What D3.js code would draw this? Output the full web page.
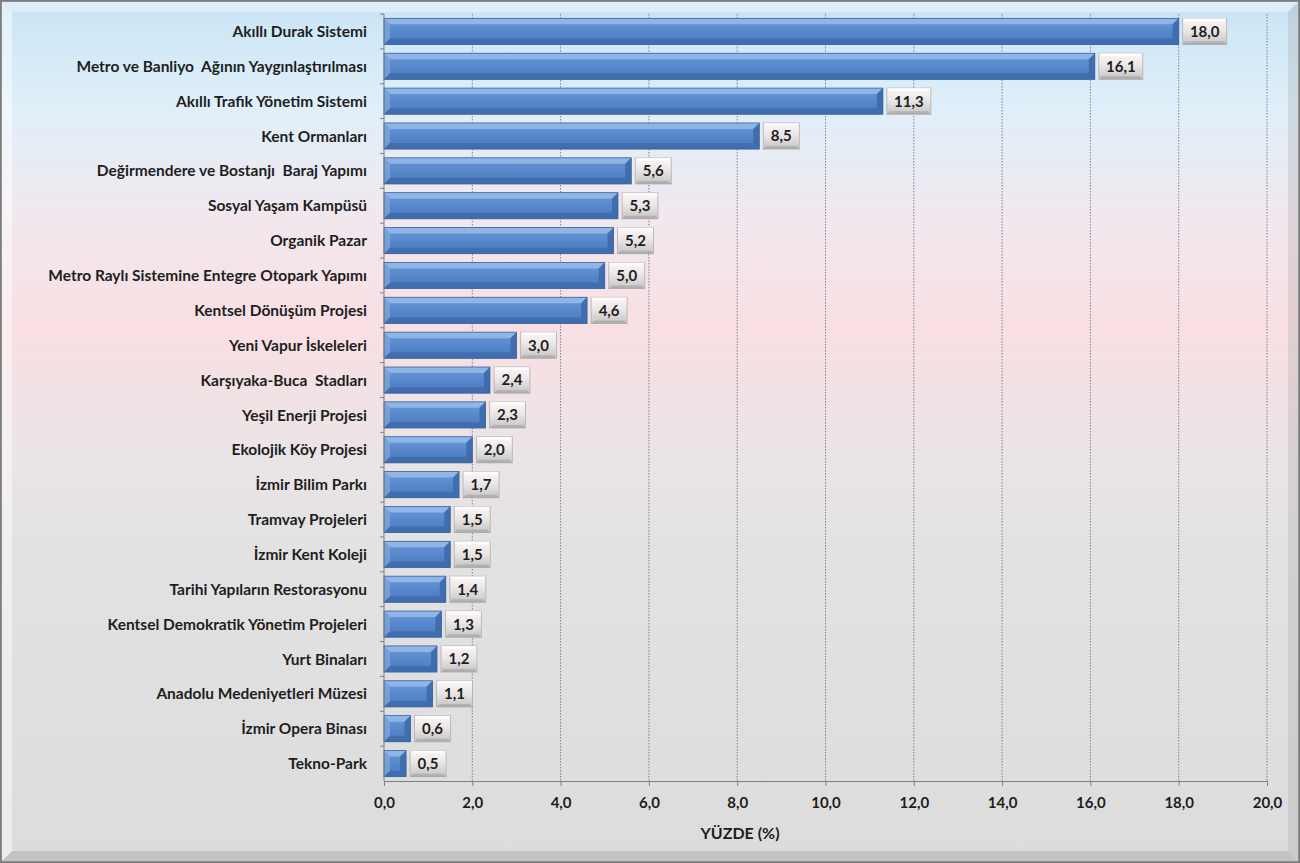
<!DOCTYPE html>
<html><head><meta charset="utf-8">
<script src="https://cdn.jsdelivr.net/npm/d3@7"></script>
<style>body{margin:0;background:#fff}svg{display:block}</style>
</head><body>
<script>
const categories = [
 "Akıllı Durak Sistemi",
 "Metro ve Banliyo  Ağının Yaygınlaştırılması",
 "Akıllı Trafik Yönetim Sistemi",
 "Kent Ormanları",
 "Değirmendere ve Bostanjı  Baraj Yapımı",
 "Sosyal Yaşam Kampüsü",
 "Organik Pazar",
 "Metro Raylı Sistemine Entegre Otopark Yapımı",
 "Kentsel Dönüşüm Projesi",
 "Yeni Vapur İskeleleri",
 "Karşıyaka-Buca  Stadları",
 "Yeşil Enerji Projesi",
 "Ekolojik Köy Projesi",
 "İzmir Bilim Parkı",
 "Tramvay Projeleri",
 "İzmir Kent Koleji",
 "Tarihi Yapıların Restorasyonu",
 "Kentsel Demokratik Yönetim Projeleri",
 "Yurt Binaları",
 "Anadolu Medeniyetleri Müzesi",
 "İzmir Opera Binası",
 "Tekno-Park"
];
const values = [18.0,16.1,11.3,8.5,5.6,5.3,5.2,5.0,4.6,3.0,2.4,2.3,2.0,1.7,1.5,1.5,1.4,1.3,1.2,1.1,0.6,0.5];
const xTicks = [0,2,4,6,8,10,12,14,16,18,20];
const xTitle = "YÜZDE (%)";

const W = 1300, H = 863;
const svg = d3.select("body").append("svg").attr("width", W).attr("height", H);
const defs = svg.append("defs");
const fmt = v => v.toFixed(1).replace(".", ",");
const FONT = "Lato, 'Open Sans', sans-serif";

// background gradient
const bg = defs.append("linearGradient").attr("id","bg").attr("x1",0).attr("y1",0).attr("x2",0).attr("y2",1);
[[0,"#c9e4f6"],[0.12,"#dfeff9"],[0.25,"#f1e8ee"],[0.38,"#f9dfe3"],[0.52,"#ebe4e6"],[0.65,"#e2e2e2"],[1,"#dcdcdc"]]
 .forEach(([o,c])=>bg.append("stop").attr("offset",o).attr("stop-color",c));
svg.append("rect").attr("x",0.5).attr("y",0.5).attr("width",W-1).attr("height",H-1)
 .attr("fill","url(#bg)").attr("stroke","#8c8c8c").attr("stroke-width",1.5);
// bevel frame
const bw = 10;
svg.append("polygon").attr("points",`2,2 ${W-2},2 ${W-2-bw},${2+bw} ${2+bw},${2+bw}`).attr("fill","#ffffff").attr("opacity",0.35);
svg.append("polygon").attr("points",`2,2 ${2+bw},${2+bw} ${2+bw},${H-2-bw} 2,${H-2}`).attr("fill","#ffffff").attr("opacity",0.45);
svg.append("polygon").attr("points",`${W-2},2 ${W-2},${H-2} ${W-2-bw},${H-2-bw} ${W-2-bw},${2+bw}`).attr("fill","#9a9a9a").attr("opacity",0.25);
svg.append("polygon").attr("points",`2,${H-2} ${W-2},${H-2} ${W-2-bw},${H-2-bw} ${2+bw},${H-2-bw}`).attr("fill","#8a8a8a").attr("opacity",0.3);
svg.append("rect").attr("x",1).attr("y",1).attr("width",W-2).attr("height",H-2).attr("fill","none").attr("stroke","#7a7a7a").attr("stroke-width",1.5);

const m = {left:384, right:1267, top:14, bottom:781};
const x = d3.scaleLinear().domain([0,20]).range([m.left, m.right]);
const y = d3.scaleBand().domain(categories).range([m.top, m.bottom]).paddingInner(0.25).paddingOuter(0.125);
const yb = d3.scaleBand().domain(categories).range([m.top, m.bottom]);

// gridlines
svg.append("g").selectAll("line").data(xTicks.filter(t=>t>0)).join("line")
 .attr("x1",d=>x(d)).attr("x2",d=>x(d)).attr("y1",m.top).attr("y2",m.bottom)
 .attr("stroke","#7d8296").attr("stroke-width",1).attr("stroke-dasharray","1.5,1.5");

// bar gradients
const bgd = defs.append("linearGradient").attr("id","barg").attr("x1",0).attr("y1",0).attr("x2",0).attr("y2",1);
[[0,"#6c99d8"],[0.5,"#5888cc"],[1,"#4a78bb"]].forEach(([o,c])=>bgd.append("stop").attr("offset",o).attr("stop-color",c));
const lgd = defs.append("linearGradient").attr("id","labg").attr("x1",0).attr("y1",0).attr("x2",0).attr("y2",1);
[[0,"#fcf6f6"],[0.45,"#ece7e7"],[1,"#c4c4c4"]].forEach(([o,c])=>lgd.append("stop").attr("offset",o).attr("stop-color",c));

const bars = svg.append("g").selectAll("g").data(categories).join("g");
bars.each(function(c,i){
  const g = d3.select(this);
  const x0 = x(0), x1 = x(values[i]), y0 = y(c), h = y.bandwidth(), w = x1-x0;
  const b = Math.min(6, w/3, h/3);
  g.append("rect").attr("x",x0).attr("y",y0).attr("width",w).attr("height",h).attr("fill","url(#barg)");
  g.append("polygon").attr("points",`${x0},${y0} ${x1},${y0} ${x1-b},${y0+b} ${x0+b},${y0+b}`).attr("fill","#9dc0ec").attr("opacity",0.75);
  g.append("polygon").attr("points",`${x0},${y0} ${x0+b},${y0+b} ${x0+b},${y0+h-b} ${x0},${y0+h}`).attr("fill","#7ea7de").attr("opacity",0.75);
  g.append("polygon").attr("points",`${x0},${y0+h} ${x1},${y0+h} ${x1-b},${y0+h-b} ${x0+b},${y0+h-b}`).attr("fill","#3d6aaa").attr("opacity",0.8);
  g.append("polygon").attr("points",`${x1},${y0} ${x1},${y0+h} ${x1-b},${y0+h-b} ${x1-b},${y0+b}`).attr("fill","#3c68a8").attr("opacity",0.85);
  g.append("rect").attr("x",x0).attr("y",y0).attr("width",w).attr("height",h).attr("fill","none").attr("stroke","#3a629c").attr("stroke-width",0.8);
  // value label box
  const txt = fmt(values[i]);
  const bwid = txt.length>3 ? 44 : 36;
  const lx = x1+4;
  g.append("rect").attr("x",lx).attr("y",y0).attr("width",bwid).attr("height",h)
   .attr("fill","url(#labg)").attr("stroke","#b0b0b0").attr("stroke-width",0.8);
  g.append("polygon").attr("points",`${lx},${y0} ${lx+bwid},${y0} ${lx+bwid-3},${y0+3} ${lx+3},${y0+3}`).attr("fill","#ffffff").attr("opacity",0.7);
  g.append("polygon").attr("points",`${lx},${y0+h} ${lx+bwid},${y0+h} ${lx+bwid-3},${y0+h-3} ${lx+3},${y0+h-3}`).attr("fill","#9a9a9a").attr("opacity",0.5);
  g.append("text").attr("x",lx+bwid/2).attr("y",y0+h/2).attr("dy","0.36em").attr("text-anchor","middle")
   .attr("font-family",FONT).attr("font-weight","bold").attr("font-size",15).attr("fill","#1e1e1e").text(txt);
});

// y axis
svg.append("line").attr("x1",m.left).attr("x2",m.left).attr("y1",m.top).attr("y2",m.bottom).attr("stroke","#7f7f7f");
svg.append("g").selectAll("line").data(categories).join("line")
 .attr("x1",m.left-4).attr("x2",m.left).attr("y1",d=>yb(d)).attr("y2",d=>yb(d)).attr("stroke","#7f7f7f");
svg.append("g").selectAll("text").data(categories).join("text")
 .attr("x",367).attr("y",d=>y(d)+y.bandwidth()/2).attr("dy","0.36em").attr("text-anchor","end")
 .attr("font-family",FONT).attr("font-weight","bold").attr("font-size",15.5).attr("fill","#1e1e1e")
 .attr("xml:space","preserve").style("white-space","pre").text(d=>d);

// x axis
const xa = svg.append("g").attr("transform",`translate(0,${m.bottom})`)
 .call(d3.axisBottom(x).tickValues(xTicks).tickFormat(fmt).tickSizeInner(5).tickSizeOuter(0).tickPadding(11));
xa.select(".domain").attr("stroke","#7f7f7f");
xa.selectAll(".tick line").attr("stroke","#7f7f7f");
xa.selectAll("text").attr("font-family",FONT).attr("font-weight","bold").attr("font-size",15).attr("fill","#1e1e1e");
svg.append("text").attr("x",740).attr("y",833).attr("dy","0.36em").attr("text-anchor","middle")
 .attr("font-family",FONT).attr("font-weight","bold").attr("font-size",16).attr("fill","#1e1e1e").text(xTitle);
</script>
</body></html>
